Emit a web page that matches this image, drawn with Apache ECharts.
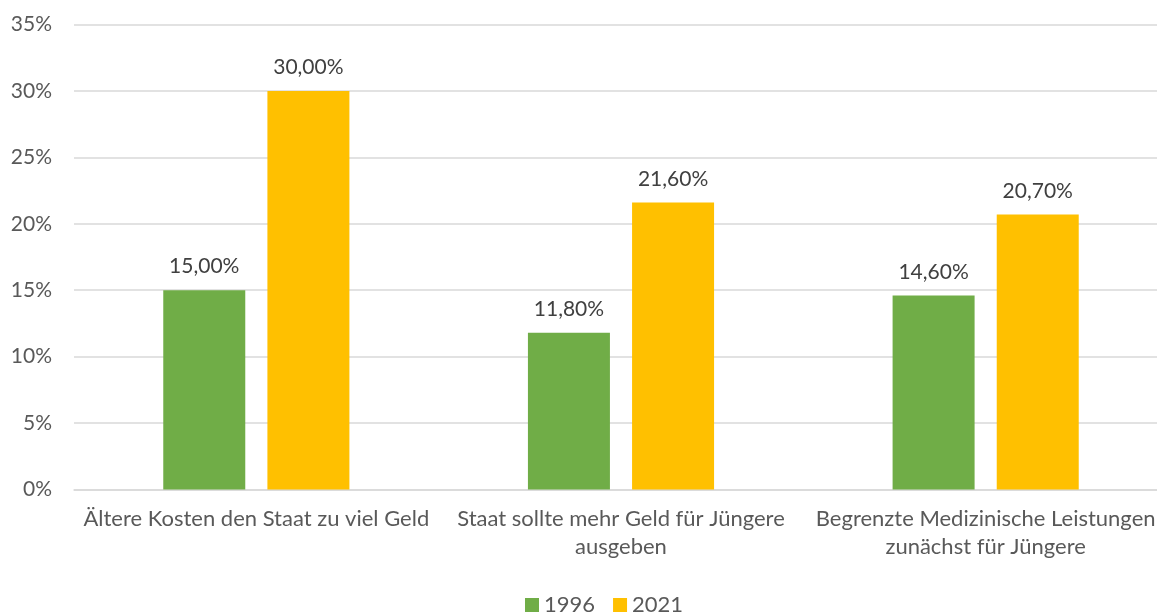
<!DOCTYPE html>
<html>
<head>
<meta charset="utf-8">
<script src="https://cdn.jsdelivr.net/npm/echarts@6/dist/echarts.min.js"></script>
<style>html,body{margin:0;padding:0;background:#fff;overflow:hidden;width:1157px;height:612px}#c{width:1170px;height:612px}</style>
</head>
<body>
<div id="c"></div>
<script>
const categories = ['Ältere Kosten den Staat zu viel Geld', 'Staat sollte mehr Geld für Jüngere\nausgeben', 'Begrenzte Medizinische Leistungen\nzunächst für Jüngere'];
const seriesNames = ['1996', '2021'];
const values1996 = [15.0, 11.8, 14.6];
const values2021 = [30.0, 21.6, 20.7];
const colors = ['#70AD47', '#FFC000'];
const FONT = 'Lato';
const FS = 21;
const chart = echarts.init(document.getElementById('c'), null, {renderer: 'canvas'});
const fmt = v => v.toFixed(2).replace('.', ',') + '%';
const mk = (name, data, color) => ({
  name, type: 'bar', data, barWidth: 82, barGap: '27%',
  itemStyle: {color},
  label: {show: true, position: 'top', distance: 13, color: '#404040', fontFamily: FONT, fontSize: FS,
    formatter: p => fmt(p.value)},
  emphasis: {disabled: true}
});
chart.setOption({
  animation: false,
  textStyle: {fontFamily: FONT},
  grid: {left: 74, top: 24.5, width: 1094, height: 465, containLabel: false},
  legend: {top: 589, left: 520, itemWidth: 14, itemHeight: 14, itemGap: 18,
    icon: 'rect', textStyle: {color: '#595959', fontSize: 22, fontFamily: FONT}, data: seriesNames},
  xAxis: {type: 'category', data: categories,
    axisLine: {show: true, lineStyle: {color: '#D9D9D9', width: 1.5}}, axisTick: {show: false},
    axisLabel: {color: '#595959', fontSize: 22, fontFamily: FONT, margin: 15, lineHeight: 28, interval: 0}},
  yAxis: {type: 'value', min: 0, max: 35, interval: 5,
    axisLabel: {color: '#595959', fontSize: FS, fontFamily: FONT, margin: 22, formatter: v => v + '%'},
    splitLine: {lineStyle: {color: '#D9D9D9', width: 1.5}}, axisLine: {show: false}, axisTick: {show: false}},
  series: [mk(seriesNames[0], values1996, colors[0]), mk(seriesNames[1], values2021, colors[1])]
});
</script>
</body>
</html>
